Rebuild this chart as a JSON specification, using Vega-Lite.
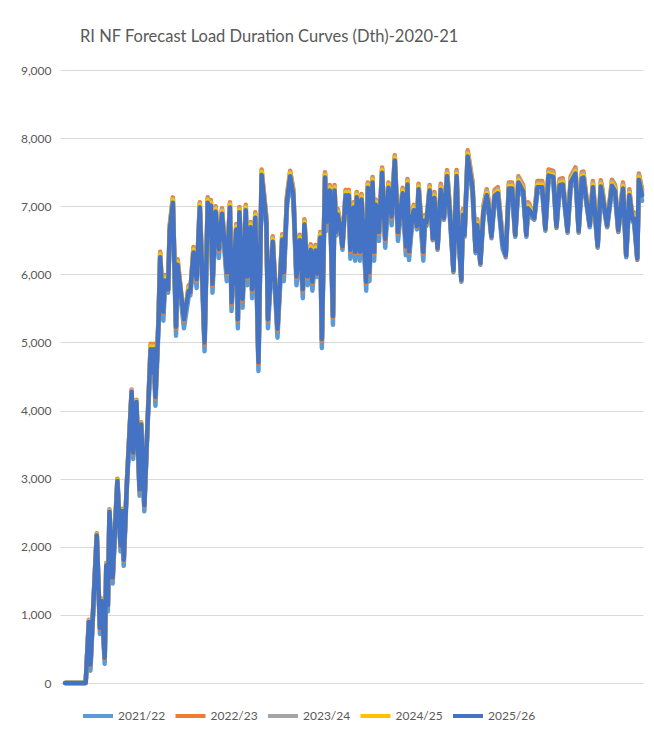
{
"$schema":"https://vega.github.io/schema/vega-lite/v6.json",
"width":583,"height":613,
"autosize":{"type":"none"},
"padding":{"left":60,"top":70,"right":11,"bottom":51},
"background":"white",
"title":{"text":"RI NF Forecast Load Duration Curves (Dth)-2020-21","anchor":"start","frame":"group","dx":20,"offset":6,"baseline":"alphabetic","fontSize":16.5,"font":"Lato","fontWeight":"normal","color":"#595959"},
"config":{"view":{"stroke":null},"font":"Lato"},
"data":{"values":[
{"d":1,"2021/22":0,"2022/23":0,"2023/24":0,"2024/25":0,"2025/26":0},
{"d":14,"2021/22":0,"2022/23":0,"2023/24":0,"2024/25":0,"2025/26":0},
{"d":16,"2021/22":855,"2022/23":930,"2023/24":920,"2024/25":910,"2025/26":895},
{"d":17,"2021/22":180,"2022/23":255,"2023/24":275,"2024/25":273,"2025/26":270},
{"d":21,"2021/22":2125,"2022/23":2200,"2023/24":2190,"2024/25":2180,"2025/26":2165},
{"d":23,"2021/22":720,"2022/23":795,"2023/24":815,"2024/25":813,"2025/26":810},
{"d":24,"2021/22":1165,"2022/23":1240,"2023/24":1230,"2024/25":1220,"2025/26":1205},
{"d":26,"2021/22":280,"2022/23":355,"2023/24":375,"2024/25":373,"2025/26":370},
{"d":27,"2021/22":1685,"2022/23":1760,"2023/24":1750,"2024/25":1740,"2025/26":1725},
{"d":28,"2021/22":1050,"2022/23":1125,"2023/24":1145,"2024/25":1143,"2025/26":1140},
{"d":29,"2021/22":2475,"2022/23":2550,"2023/24":2540,"2024/25":2530,"2025/26":2515},
{"d":31,"2021/22":1460,"2022/23":1535,"2023/24":1555,"2024/25":1553,"2025/26":1550},
{"d":34,"2021/22":2925,"2022/23":3000,"2023/24":2990,"2024/25":2980,"2025/26":2965},
{"d":36,"2021/22":1930,"2022/23":2005,"2023/24":2025,"2024/25":2023,"2025/26":2020},
{"d":37,"2021/22":2485,"2022/23":2560,"2023/24":2550,"2024/25":2540,"2025/26":2525},
{"d":38,"2021/22":1720,"2022/23":1795,"2023/24":1815,"2024/25":1813,"2025/26":1810},
{"d":40,"2021/22":2885,"2022/23":2960,"2023/24":2950,"2024/25":2940,"2025/26":2925},
{"d":43,"2021/22":4235,"2022/23":4310,"2023/24":4300,"2024/25":4290,"2025/26":4275},
{"d":44,"2021/22":3290,"2022/23":3365,"2023/24":3385,"2024/25":3383,"2025/26":3380},
{"d":46,"2021/22":4085,"2022/23":4160,"2023/24":4150,"2024/25":4140,"2025/26":4125},
{"d":48,"2021/22":2750,"2022/23":2825,"2023/24":2845,"2024/25":2843,"2025/26":2840},
{"d":49,"2021/22":3755,"2022/23":3830,"2023/24":3820,"2024/25":3810,"2025/26":3795},
{"d":51,"2021/22":2520,"2022/23":2595,"2023/24":2615,"2024/25":2613,"2025/26":2610},
{"d":53,"2021/22":3745,"2022/23":3820,"2023/24":3810,"2024/25":3800,"2025/26":3785},
{"d":55,"2021/22":4820,"2022/23":4980,"2023/24":4960,"2024/25":4940,"2025/26":4900},
{"d":56,"2021/22":4430,"2022/23":4535,"2023/24":4570,"2024/25":4565,"2025/26":4560},
{"d":57,"2021/22":4820,"2022/23":4980,"2023/24":4960,"2024/25":4940,"2025/26":4900},
{"d":58,"2021/22":4070,"2022/23":4175,"2023/24":4210,"2024/25":4205,"2025/26":4200},
{"d":60,"2021/22":5240,"2022/23":5400,"2023/24":5380,"2024/25":5360,"2025/26":5320},
{"d":61,"2021/22":6170,"2022/23":6330,"2023/24":6310,"2024/25":6290,"2025/26":6250},
{"d":63,"2021/22":5320,"2022/23":5425,"2023/24":5460,"2024/25":5455,"2025/26":5450},
{"d":64,"2021/22":5830,"2022/23":5990,"2023/24":5970,"2024/25":5950,"2025/26":5910},
{"d":66,"2021/22":5730,"2022/23":5770,"2023/24":5785,"2024/25":5780,"2025/26":5780},
{"d":67,"2021/22":6560,"2022/23":6720,"2023/24":6700,"2024/25":6680,"2025/26":6640},
{"d":69,"2021/22":6970,"2022/23":7130,"2023/24":7110,"2024/25":7090,"2025/26":7050},
{"d":71,"2021/22":5100,"2022/23":5205,"2023/24":5240,"2024/25":5235,"2025/26":5230},
{"d":72,"2021/22":6060,"2022/23":6220,"2023/24":6200,"2024/25":6180,"2025/26":6140},
{"d":76,"2021/22":5210,"2022/23":5315,"2023/24":5350,"2024/25":5345,"2025/26":5340},
{"d":79,"2021/22":5680,"2022/23":5840,"2023/24":5820,"2024/25":5800,"2025/26":5760},
{"d":80,"2021/22":5690,"2022/23":5730,"2023/24":5745,"2024/25":5740,"2025/26":5740},
{"d":82,"2021/22":6240,"2022/23":6400,"2023/24":6380,"2024/25":6360,"2025/26":6320},
{"d":84,"2021/22":5800,"2022/23":5905,"2023/24":5940,"2024/25":5935,"2025/26":5930},
{"d":86,"2021/22":6900,"2022/23":7060,"2023/24":7040,"2024/25":7020,"2025/26":6980},
{"d":89,"2021/22":4870,"2022/23":4975,"2023/24":5010,"2024/25":5005,"2025/26":5000},
{"d":91,"2021/22":6970,"2022/23":7130,"2023/24":7110,"2024/25":7090,"2025/26":7050},
{"d":92,"2021/22":6760,"2022/23":6800,"2023/24":6815,"2024/25":6810,"2025/26":6810},
{"d":93,"2021/22":6930,"2022/23":7090,"2023/24":7070,"2024/25":7050,"2025/26":7010},
{"d":94,"2021/22":5730,"2022/23":5835,"2023/24":5870,"2024/25":5865,"2025/26":5860},
{"d":96,"2021/22":6840,"2022/23":7000,"2023/24":6980,"2024/25":6960,"2025/26":6920},
{"d":98,"2021/22":6240,"2022/23":6345,"2023/24":6380,"2024/25":6375,"2025/26":6370},
{"d":100,"2021/22":6810,"2022/23":6970,"2023/24":6950,"2024/25":6930,"2025/26":6890},
{"d":103,"2021/22":5900,"2022/23":6005,"2023/24":6040,"2024/25":6035,"2025/26":6030},
{"d":105,"2021/22":6900,"2022/23":7060,"2023/24":7040,"2024/25":7020,"2025/26":6980},
{"d":106,"2021/22":5460,"2022/23":5565,"2023/24":5600,"2024/25":5595,"2025/26":5590},
{"d":109,"2021/22":6580,"2022/23":6740,"2023/24":6720,"2024/25":6700,"2025/26":6660},
{"d":110,"2021/22":5210,"2022/23":5315,"2023/24":5350,"2024/25":5345,"2025/26":5340},
{"d":111,"2021/22":6830,"2022/23":6990,"2023/24":6970,"2024/25":6950,"2025/26":6910},
{"d":113,"2021/22":5510,"2022/23":5615,"2023/24":5650,"2024/25":5645,"2025/26":5640},
{"d":115,"2021/22":6860,"2022/23":7020,"2023/24":7000,"2024/25":6980,"2025/26":6940},
{"d":116,"2021/22":5840,"2022/23":5945,"2023/24":5980,"2024/25":5975,"2025/26":5970},
{"d":118,"2021/22":6610,"2022/23":6770,"2023/24":6750,"2024/25":6730,"2025/26":6690},
{"d":119,"2021/22":5650,"2022/23":5755,"2023/24":5790,"2024/25":5785,"2025/26":5780},
{"d":121,"2021/22":6750,"2022/23":6910,"2023/24":6890,"2024/25":6870,"2025/26":6830},
{"d":123,"2021/22":4580,"2022/23":4685,"2023/24":4720,"2024/25":4715,"2025/26":4710},
{"d":125,"2021/22":7380,"2022/23":7540,"2023/24":7520,"2024/25":7500,"2025/26":7460},
{"d":128,"2021/22":6680,"2022/23":6840,"2023/24":6820,"2024/25":6800,"2025/26":6760},
{"d":129,"2021/22":5210,"2022/23":5315,"2023/24":5350,"2024/25":5345,"2025/26":5340},
{"d":132,"2021/22":6400,"2022/23":6560,"2023/24":6540,"2024/25":6520,"2025/26":6480},
{"d":135,"2021/22":5070,"2022/23":5175,"2023/24":5210,"2024/25":5205,"2025/26":5200},
{"d":138,"2021/22":6430,"2022/23":6590,"2023/24":6570,"2024/25":6550,"2025/26":6510},
{"d":139,"2021/22":5900,"2022/23":6005,"2023/24":6040,"2024/25":6035,"2025/26":6030},
{"d":141,"2021/22":7000,"2022/23":7160,"2023/24":7140,"2024/25":7120,"2025/26":7080},
{"d":143,"2021/22":7360,"2022/23":7520,"2023/24":7500,"2024/25":7480,"2025/26":7440},
{"d":145,"2021/22":7090,"2022/23":7250,"2023/24":7230,"2024/25":7210,"2025/26":7170},
{"d":147,"2021/22":5840,"2022/23":5945,"2023/24":5980,"2024/25":5975,"2025/26":5970},
{"d":149,"2021/22":6420,"2022/23":6580,"2023/24":6560,"2024/25":6540,"2025/26":6500},
{"d":151,"2021/22":5650,"2022/23":5755,"2023/24":5790,"2024/25":5785,"2025/26":5780},
{"d":152,"2021/22":6650,"2022/23":6810,"2023/24":6790,"2024/25":6770,"2025/26":6730},
{"d":154,"2021/22":5840,"2022/23":5945,"2023/24":5980,"2024/25":5975,"2025/26":5970},
{"d":156,"2021/22":6280,"2022/23":6440,"2023/24":6420,"2024/25":6400,"2025/26":6360},
{"d":157,"2021/22":5760,"2022/23":5865,"2023/24":5900,"2024/25":5895,"2025/26":5890},
{"d":159,"2021/22":6270,"2022/23":6430,"2023/24":6410,"2024/25":6390,"2025/26":6350},
{"d":160,"2021/22":5960,"2022/23":6000,"2023/24":6015,"2024/25":6010,"2025/26":6010},
{"d":162,"2021/22":6460,"2022/23":6620,"2023/24":6600,"2024/25":6580,"2025/26":6540},
{"d":163,"2021/22":4920,"2022/23":5025,"2023/24":5060,"2024/25":5055,"2025/26":5050},
{"d":165,"2021/22":7340,"2022/23":7500,"2023/24":7480,"2024/25":7460,"2025/26":7420},
{"d":166,"2021/22":6640,"2022/23":6745,"2023/24":6780,"2024/25":6775,"2025/26":6770},
{"d":168,"2021/22":7150,"2022/23":7310,"2023/24":7290,"2024/25":7270,"2025/26":7230},
{"d":170,"2021/22":5260,"2022/23":5365,"2023/24":5400,"2024/25":5395,"2025/26":5390},
{"d":171,"2021/22":7150,"2022/23":7310,"2023/24":7290,"2024/25":7270,"2025/26":7230},
{"d":172,"2021/22":6570,"2022/23":6610,"2023/24":6625,"2024/25":6620,"2025/26":6620},
{"d":173,"2021/22":6800,"2022/23":6960,"2023/24":6940,"2024/25":6920,"2025/26":6880},
{"d":175,"2021/22":6560,"2022/23":6720,"2023/24":6700,"2024/25":6680,"2025/26":6640},
{"d":176,"2021/22":6360,"2022/23":6400,"2023/24":6415,"2024/25":6410,"2025/26":6410},
{"d":178,"2021/22":7080,"2022/23":7240,"2023/24":7220,"2024/25":7200,"2025/26":7160},
{"d":179,"2021/22":6860,"2022/23":6900,"2023/24":6915,"2024/25":6910,"2025/26":6910},
{"d":180,"2021/22":7080,"2022/23":7240,"2023/24":7220,"2024/25":7200,"2025/26":7160},
{"d":181,"2021/22":6230,"2022/23":6335,"2023/24":6370,"2024/25":6365,"2025/26":6360},
{"d":183,"2021/22":6900,"2022/23":7060,"2023/24":7040,"2024/25":7020,"2025/26":6980},
{"d":184,"2021/22":6200,"2022/23":6305,"2023/24":6340,"2024/25":6335,"2025/26":6330},
{"d":185,"2021/22":7050,"2022/23":7210,"2023/24":7190,"2024/25":7170,"2025/26":7130},
{"d":187,"2021/22":6200,"2022/23":6305,"2023/24":6340,"2024/25":6335,"2025/26":6330},
{"d":188,"2021/22":7020,"2022/23":7180,"2023/24":7160,"2024/25":7140,"2025/26":7100},
{"d":191,"2021/22":5760,"2022/23":5865,"2023/24":5900,"2024/25":5895,"2025/26":5890},
{"d":192,"2021/22":7190,"2022/23":7350,"2023/24":7330,"2024/25":7310,"2025/26":7270},
{"d":193,"2021/22":5900,"2022/23":6005,"2023/24":6040,"2024/25":6035,"2025/26":6030},
{"d":195,"2021/22":7270,"2022/23":7430,"2023/24":7410,"2024/25":7390,"2025/26":7350},
{"d":196,"2021/22":6200,"2022/23":6305,"2023/24":6340,"2024/25":6335,"2025/26":6330},
{"d":197,"2021/22":6940,"2022/23":7100,"2023/24":7080,"2024/25":7060,"2025/26":7020},
{"d":199,"2021/22":6490,"2022/23":6595,"2023/24":6630,"2024/25":6625,"2025/26":6620},
{"d":201,"2021/22":7410,"2022/23":7570,"2023/24":7550,"2024/25":7530,"2025/26":7490},
{"d":203,"2021/22":6390,"2022/23":6495,"2023/24":6530,"2024/25":6525,"2025/26":6520},
{"d":205,"2021/22":7190,"2022/23":7350,"2023/24":7330,"2024/25":7310,"2025/26":7270},
{"d":207,"2021/22":6720,"2022/23":6825,"2023/24":6860,"2024/25":6855,"2025/26":6850},
{"d":209,"2021/22":7590,"2022/23":7750,"2023/24":7730,"2024/25":7710,"2025/26":7670},
{"d":211,"2021/22":6490,"2022/23":6595,"2023/24":6630,"2024/25":6625,"2025/26":6620},
{"d":214,"2021/22":7110,"2022/23":7270,"2023/24":7250,"2024/25":7230,"2025/26":7190},
{"d":216,"2021/22":6280,"2022/23":6385,"2023/24":6420,"2024/25":6415,"2025/26":6410},
{"d":217,"2021/22":7240,"2022/23":7400,"2023/24":7380,"2024/25":7360,"2025/26":7320},
{"d":218,"2021/22":6210,"2022/23":6315,"2023/24":6350,"2024/25":6345,"2025/26":6340},
{"d":220,"2021/22":6750,"2022/23":6910,"2023/24":6890,"2024/25":6870,"2025/26":6830},
{"d":221,"2021/22":6860,"2022/23":7020,"2023/24":7000,"2024/25":6980,"2025/26":6940},
{"d":223,"2021/22":6660,"2022/23":6700,"2023/24":6715,"2024/25":6710,"2025/26":6710},
{"d":224,"2021/22":7170,"2022/23":7330,"2023/24":7310,"2024/25":7290,"2025/26":7250},
{"d":227,"2021/22":6200,"2022/23":6305,"2023/24":6340,"2024/25":6335,"2025/26":6330},
{"d":228,"2021/22":6710,"2022/23":6870,"2023/24":6850,"2024/25":6830,"2025/26":6790},
{"d":229,"2021/22":6710,"2022/23":6750,"2023/24":6765,"2024/25":6760,"2025/26":6760},
{"d":231,"2021/22":7150,"2022/23":7310,"2023/24":7290,"2024/25":7270,"2025/26":7230},
{"d":233,"2021/22":6500,"2022/23":6520,"2023/24":6540,"2024/25":6535,"2025/26":6530},
{"d":234,"2021/22":7040,"2022/23":7210,"2023/24":7185,"2024/25":7155,"2025/26":7120},
{"d":236,"2021/22":6360,"2022/23":6380,"2023/24":6400,"2024/25":6395,"2025/26":6390},
{"d":238,"2021/22":7160,"2022/23":7330,"2023/24":7305,"2024/25":7275,"2025/26":7240},
{"d":240,"2021/22":6800,"2022/23":6820,"2023/24":6840,"2024/25":6835,"2025/26":6830},
{"d":242,"2021/22":7360,"2022/23":7530,"2023/24":7505,"2024/25":7475,"2025/26":7440},
{"d":244,"2021/22":6740,"2022/23":6910,"2023/24":6885,"2024/25":6855,"2025/26":6820},
{"d":246,"2021/22":6030,"2022/23":6050,"2023/24":6070,"2024/25":6065,"2025/26":6060},
{"d":248,"2021/22":7360,"2022/23":7530,"2023/24":7505,"2024/25":7475,"2025/26":7440},
{"d":249,"2021/22":6600,"2022/23":6770,"2023/24":6745,"2024/25":6715,"2025/26":6680},
{"d":251,"2021/22":5890,"2022/23":5910,"2023/24":5930,"2024/25":5925,"2025/26":5920},
{"d":252,"2021/22":6790,"2022/23":6960,"2023/24":6935,"2024/25":6905,"2025/26":6870},
{"d":253,"2021/22":6550,"2022/23":6570,"2023/24":6590,"2024/25":6585,"2025/26":6580},
{"d":255,"2021/22":7650,"2022/23":7820,"2023/24":7795,"2024/25":7765,"2025/26":7730},
{"d":258,"2021/22":7200,"2022/23":7370,"2023/24":7345,"2024/25":7315,"2025/26":7280},
{"d":260,"2021/22":6310,"2022/23":6330,"2023/24":6350,"2024/25":6345,"2025/26":6340},
{"d":261,"2021/22":6640,"2022/23":6810,"2023/24":6785,"2024/25":6755,"2025/26":6720},
{"d":263,"2021/22":6140,"2022/23":6160,"2023/24":6180,"2024/25":6175,"2025/26":6170},
{"d":265,"2021/22":6850,"2022/23":7020,"2023/24":6995,"2024/25":6965,"2025/26":6930},
{"d":267,"2021/22":7080,"2022/23":7250,"2023/24":7225,"2024/25":7195,"2025/26":7160},
{"d":268,"2021/22":6950,"2022/23":7120,"2023/24":7095,"2024/25":7065,"2025/26":7030},
{"d":270,"2021/22":6530,"2022/23":6550,"2023/24":6570,"2024/25":6565,"2025/26":6560},
{"d":272,"2021/22":7070,"2022/23":7240,"2023/24":7215,"2024/25":7185,"2025/26":7150},
{"d":274,"2021/22":7110,"2022/23":7280,"2023/24":7255,"2024/25":7225,"2025/26":7190},
{"d":277,"2021/22":6380,"2022/23":6550,"2023/24":6525,"2024/25":6495,"2025/26":6460},
{"d":279,"2021/22":6250,"2022/23":6270,"2023/24":6290,"2024/25":6285,"2025/26":6280},
{"d":281,"2021/22":7180,"2022/23":7350,"2023/24":7325,"2024/25":7295,"2025/26":7260},
{"d":283,"2021/22":7180,"2022/23":7350,"2023/24":7325,"2024/25":7295,"2025/26":7260},
{"d":285,"2021/22":6550,"2022/23":6570,"2023/24":6590,"2024/25":6585,"2025/26":6580},
{"d":287,"2021/22":7270,"2022/23":7440,"2023/24":7415,"2024/25":7385,"2025/26":7350},
{"d":290,"2021/22":7140,"2022/23":7310,"2023/24":7285,"2024/25":7255,"2025/26":7220},
{"d":292,"2021/22":6550,"2022/23":6570,"2023/24":6590,"2024/25":6585,"2025/26":6580},
{"d":293,"2021/22":6890,"2022/23":7060,"2023/24":7035,"2024/25":7005,"2025/26":6970},
{"d":294,"2021/22":6860,"2022/23":7030,"2023/24":7005,"2024/25":6975,"2025/26":6940},
{"d":297,"2021/22":6800,"2022/23":6820,"2023/24":6840,"2024/25":6835,"2025/26":6830},
{"d":299,"2021/22":7200,"2022/23":7370,"2023/24":7345,"2024/25":7315,"2025/26":7280},
{"d":302,"2021/22":7200,"2022/23":7370,"2023/24":7345,"2024/25":7315,"2025/26":7280},
{"d":304,"2021/22":6640,"2022/23":6660,"2023/24":6680,"2024/25":6675,"2025/26":6670},
{"d":306,"2021/22":7370,"2022/23":7540,"2023/24":7515,"2024/25":7485,"2025/26":7450},
{"d":309,"2021/22":7350,"2022/23":7520,"2023/24":7495,"2024/25":7465,"2025/26":7430},
{"d":311,"2021/22":6680,"2022/23":6700,"2023/24":6720,"2024/25":6715,"2025/26":6710},
{"d":313,"2021/22":7230,"2022/23":7400,"2023/24":7375,"2024/25":7345,"2025/26":7310},
{"d":315,"2021/22":7240,"2022/23":7410,"2023/24":7385,"2024/25":7355,"2025/26":7320},
{"d":318,"2021/22":6610,"2022/23":6630,"2023/24":6650,"2024/25":6645,"2025/26":6640},
{"d":320,"2021/22":7270,"2022/23":7440,"2023/24":7415,"2024/25":7385,"2025/26":7350},
{"d":323,"2021/22":7400,"2022/23":7570,"2023/24":7545,"2024/25":7515,"2025/26":7480},
{"d":325,"2021/22":6610,"2022/23":6630,"2023/24":6650,"2024/25":6645,"2025/26":6640},
{"d":327,"2021/22":7330,"2022/23":7500,"2023/24":7475,"2024/25":7445,"2025/26":7410},
{"d":328,"2021/22":7340,"2022/23":7510,"2023/24":7485,"2024/25":7455,"2025/26":7420},
{"d":332,"2021/22":6690,"2022/23":6710,"2023/24":6730,"2024/25":6725,"2025/26":6720},
{"d":334,"2021/22":7200,"2022/23":7370,"2023/24":7345,"2024/25":7315,"2025/26":7280},
{"d":337,"2021/22":6390,"2022/23":6410,"2023/24":6430,"2024/25":6425,"2025/26":6420},
{"d":339,"2021/22":7210,"2022/23":7380,"2023/24":7355,"2024/25":7325,"2025/26":7290},
{"d":340,"2021/22":7080,"2022/23":7250,"2023/24":7225,"2024/25":7195,"2025/26":7160},
{"d":343,"2021/22":6690,"2022/23":6710,"2023/24":6730,"2024/25":6725,"2025/26":6720},
{"d":346,"2021/22":7220,"2022/23":7390,"2023/24":7365,"2024/25":7335,"2025/26":7300},
{"d":348,"2021/22":7140,"2022/23":7310,"2023/24":7285,"2024/25":7255,"2025/26":7220},
{"d":350,"2021/22":6620,"2022/23":6640,"2023/24":6660,"2024/25":6655,"2025/26":6650},
{"d":353,"2021/22":7180,"2022/23":7350,"2023/24":7325,"2024/25":7295,"2025/26":7260},
{"d":355,"2021/22":6250,"2022/23":6270,"2023/24":6290,"2024/25":6285,"2025/26":6280},
{"d":357,"2021/22":7080,"2022/23":7250,"2023/24":7225,"2024/25":7195,"2025/26":7160},
{"d":359,"2021/22":6780,"2022/23":6800,"2023/24":6820,"2024/25":6815,"2025/26":6810},
{"d":360,"2021/22":6740,"2022/23":6910,"2023/24":6885,"2024/25":6855,"2025/26":6820},
{"d":362,"2021/22":6210,"2022/23":6230,"2023/24":6250,"2024/25":6245,"2025/26":6240},
{"d":363,"2021/22":7310,"2022/23":7480,"2023/24":7455,"2024/25":7425,"2025/26":7390},
{"d":365,"2021/22":7080,"2022/23":7250,"2023/24":7225,"2024/25":7195,"2025/26":7160}
]},
"transform":[{"fold":["2021/22","2022/23","2023/24","2024/25","2025/26"],"as":["series","load"]}],
"mark":{"type":"line","strokeWidth":4.5,"strokeJoin":"round","strokeCap":"round"},
"encoding":{
"x":{"field":"d","type":"quantitative","scale":{"domain":[-2.2,365.6],"nice":false,"zero":false},"axis":null},
"y":{"field":"load","type":"quantitative","scale":{"domain":[0,9000],"nice":false},
"axis":{"values":[0,1000,2000,3000,4000,5000,6000,7000,8000,9000],"format":",.0f","title":null,"domain":false,"ticks":false,"labelFontSize":12,"labelColor":"#595959","labelPadding":9,"gridColor":"#d9d9d9","gridWidth":1,"labelFont":"Lato"}},
"color":{"field":"series","type":"nominal",
"scale":{"domain":["2021/22","2022/23","2023/24","2024/25","2025/26"],"range":["#5B9BD5","#ED7D31","#A5A5A5","#FFC000","#4472C4"]},
"legend":{"orient":"none","legendX":21,"legendY":629,"direction":"horizontal","title":null,"symbolType":"stroke","symbolSize":900,"symbolStrokeWidth":4,"labelFontSize":12,"labelColor":"#595959","labelFont":"Lato","labelOffset":3,"columnPadding":1.5}}
}
}
